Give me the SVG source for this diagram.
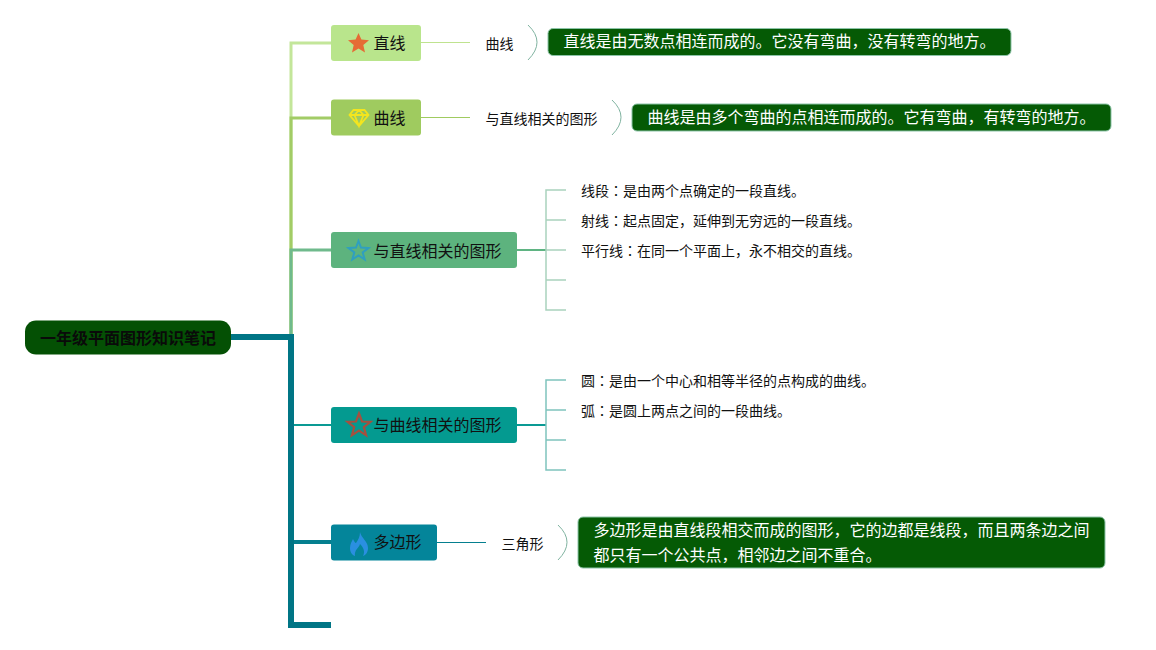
<svg xmlns="http://www.w3.org/2000/svg" width="1156" height="650" viewBox="0 0 1156 650">
<style>
text{font-family:"Noto Sans CJK SC","Liberation Sans",sans-serif}
.t{font-size:16px;fill:#111}
.s{font-size:14px;fill:#111}
.n{font-size:16px;fill:#fff}
.c{font-family:"Noto Sans CJK TC","Liberation Sans",sans-serif}
.note{fill:#055a05;stroke:#8cc4a8;stroke-width:1}
.b{fill:none;stroke:#7fb3a0;stroke-width:1}
</style>
<rect width="1156" height="650" fill="#fff"/>
<g id="connectors" fill="none">
<path d="M291 338V43H331" stroke="#c3e69a" stroke-width="3"/>
<path d="M291 338V118H331" stroke="#a2cc66" stroke-width="3"/>
<path d="M291 338V250H331" stroke="#6fba8c" stroke-width="3"/>
<path d="M291 425H331" stroke="#0a9a94" stroke-width="2"/>
<path d="M291 542H331" stroke="#057f8f" stroke-width="4"/>
<path d="M231 337H291V625H331" stroke="#007585" stroke-width="6"/>
<path d="M421 42.500H470" stroke="#bfe38f"/>
<path d="M421 117.500H470" stroke="#a0cb60"/>
<path d="M437 542.500H486" stroke="#057f8f"/>
<path d="M517 250H546" stroke="#5fb483" stroke-width="2"/>
<path d="M546 250V190H566M546 220H566M546 250H566M546 250V310H566M546 280H566" stroke="#a9d2bd" stroke-width="1.500"/>
<path d="M517 425H546" stroke="#0a9a94" stroke-width="2"/>
<path d="M546 425V380H566M546 410H566M546 440H566M546 425V470H566" stroke="#7fc4bd" stroke-width="1.500"/>
<path class="b" d="M528 25Q546 42 528 60"/>
<path class="b" d="M612 100Q630 117 612 135"/>
<path class="b" d="M558 525Q576 542 558 560"/>
</g>
<g id="root">
<rect x="25" y="320.500" width="206" height="34" rx="11" fill="#045004"/>
<text x="128" y="344" text-anchor="middle" font-size="16" font-weight="700" fill="#0a0a0a">一年级平面图形知识笔记</text>
</g>
<g id="node-line">
<rect x="331" y="25" width="90" height="36" rx="3" fill="#b9e58c"/>
<polygon points="358.500,33 361.400,39.400 369,40.200 363.300,45 365,52.500 358.500,48.600 352,52.500 353.700,45 348,40.200 355.600,39.400" fill="#e56b35"/>
<text class="t" x="373.500" y="49">直线</text>
</g>
<g id="node-curve">
<rect x="331" y="99.500" width="90" height="36" rx="3" fill="#9fcb5f"/>
<path d="M353.500 110H364.500L368.500 115L359 126L349.500 115ZM349.500 115H368.500M354.500 115L359 126L363.500 115L359 110L354.500 115" fill="none" stroke="#f3e51e" stroke-width="1.800"/>
<text class="t" x="373.500" y="124">曲线</text>
</g>
<g id="node-related-line">
<rect x="331" y="232" width="186" height="36" rx="3" fill="#5db37e"/>
<polygon points="358.500,241 361,247.600 368.500,248 362.700,252.500 364.700,259.500 358.500,255.500 352.300,259.500 354.300,252.500 348.500,248 356,247.600" fill="none" stroke="#2f9fc0" stroke-width="2"/>
<text class="t" x="373.500" y="257">与直线相关的图形</text>
</g>
<g id="node-related-curve">
<rect x="331" y="407" width="186" height="36" rx="3" fill="#049a90"/>
<polygon points="359,413.500 362,421.500 370.500,421.800 363.800,427.100 366.100,435.300 359,430.600 351.900,435.300 354.200,427.100 347.500,421.800 356,421.500" fill="none" stroke="#a5503f" stroke-width="2.200"/>
<text class="t" x="373.500" y="431">与曲线相关的图形</text>
</g>
<g id="node-polygon">
<rect x="331" y="524.500" width="106" height="36" rx="3" fill="#04859a"/>
<path d="M360 532C361 538 368 541 368 548C368 552 366 555 363 556C365 552 364 548 360 544C359 548 354 550 355 556C352 555 350 552 350 548C350 544 352 541 353 539C354 541 355 543 356 543C358 540 360 537 360 532Z" fill="#2a8fe0"/>
<text class="t" x="373.500" y="548">多边形</text>
</g>
<g id="sub-1"><text class="s" x="485.500" y="49">曲线</text></g>
<g id="sub-2"><text class="s" x="485.500" y="124">与直线相关的图形</text></g>
<g id="sub-3"><text class="s" x="501.500" y="549">三角形</text></g>
<g id="note-1">
<rect class="note" x="548" y="28.500" width="463" height="27" rx="5"/>
<text class="n" x="563.500" y="47">直线是由无数点相连而成的。它没有弯曲，没有转弯的地方。</text>
</g>
<g id="note-2">
<rect class="note" x="632" y="104" width="479" height="27" rx="5"/>
<text class="n" x="647.500" y="123">曲线是由多个弯曲的点相连而成的。它有弯曲，有转弯的地方。</text>
</g>
<g id="note-3">
<rect class="note" x="578" y="517" width="527" height="51" rx="5"/>
<text class="n" x="593.500" y="536">多边形是由直线段相交而成的图形，它的边都是线段，而且两条边之间</text>
<text class="n" x="593.500" y="561">都只有一个公共点，相邻边之间不重合。</text>
</g>
<g id="leaves-line">
<text class="s" x="581" y="196">线段<tspan class="c">：</tspan>是由两个点确定的一段直线。</text>
<text class="s" x="581" y="226">射线<tspan class="c">：</tspan>起点固定，延伸到无穷远的一段直线。</text>
<text class="s" x="581" y="256">平行线<tspan class="c">：</tspan>在同一个平面上，永不相交的直线。</text>
</g>
<g id="leaves-curve">
<text class="s" x="581" y="386">圆<tspan class="c">：</tspan>是由一个中心和相等半径的点构成的曲线。</text>
<text class="s" x="581" y="416">弧<tspan class="c">：</tspan>是圆上两点之间的一段曲线。</text>
</g>
</svg>
